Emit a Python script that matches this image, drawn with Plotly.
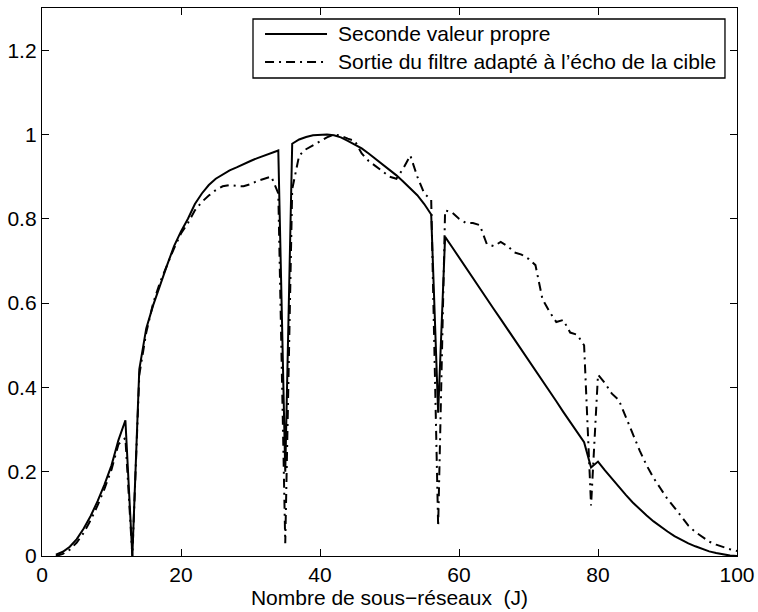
import plotly.graph_objects as go

J = list(range(2, 101))

seconde_valeur_propre = [
    0.003, 0.010, 0.022, 0.040, 0.065, 0.095, 0.130, 0.170, 0.215, 0.275,   # 2-11
    0.322, 0.000, 0.443, 0.540, 0.595, 0.645, 0.690, 0.735, 0.770, 0.800,   # 12-21
    0.835, 0.860, 0.880, 0.895, 0.905, 0.915, 0.922, 0.930, 0.937, 0.944,   # 22-31
    0.950, 0.956, 0.962, 0.200, 0.978, 0.988, 0.994, 0.998, 0.999, 1.000,   # 32-41
    0.998, 0.993, 0.985, 0.977, 0.967, 0.955, 0.942, 0.930, 0.917, 0.903,   # 42-51
    0.888, 0.872, 0.856, 0.835, 0.810, 0.340, 0.757, 0.733, 0.708, 0.684,   # 52-61
    0.660, 0.635, 0.611, 0.586, 0.562, 0.538, 0.513, 0.489, 0.464, 0.440,   # 62-71
    0.416, 0.391, 0.367, 0.342, 0.318, 0.294, 0.270, 0.210, 0.224, 0.203,   # 72-81
    0.183, 0.164, 0.145, 0.127, 0.111, 0.096, 0.082, 0.069, 0.058, 0.047,   # 82-91
    0.038, 0.030, 0.023, 0.017, 0.011, 0.007, 0.004, 0.001, 0.000,          # 92-100
]

sortie_filtre_adapte = [
    0.000, 0.005, 0.015, 0.032, 0.055, 0.085, 0.120, 0.160, 0.205, 0.265,   # 2-11
    0.280, 0.000, 0.430, 0.530, 0.600, 0.650, 0.690, 0.730, 0.765, 0.790,   # 12-21
    0.820, 0.840, 0.855, 0.868, 0.877, 0.880, 0.878, 0.877, 0.882, 0.890,   # 22-31
    0.895, 0.900, 0.860, 0.030, 0.870, 0.950, 0.965, 0.975, 0.985, 0.993,   # 32-41
    1.000, 0.997, 0.990, 0.985, 0.955, 0.937, 0.925, 0.912, 0.900, 0.895,   # 42-51
    0.920, 0.950, 0.900, 0.860, 0.845, 0.070, 0.820, 0.815, 0.800, 0.790,   # 52-61
    0.790, 0.785, 0.740, 0.735, 0.745, 0.735, 0.720, 0.715, 0.705, 0.690,   # 62-71
    0.610, 0.580, 0.555, 0.560, 0.530, 0.525, 0.500, 0.120, 0.430, 0.410,   # 72-81
    0.385, 0.370, 0.330, 0.290, 0.250, 0.215, 0.185, 0.160, 0.135, 0.115,   # 82-91
    0.092, 0.072, 0.057, 0.045, 0.034, 0.027, 0.021, 0.016, 0.012,          # 92-100
]

series_names = ["Seconde valeur propre",
                "Sortie du filtre adapté à l’écho de la cible"]

x_ticks = [0, 20, 40, 60, 80, 100]
y_ticks = [0, 0.2, 0.4, 0.6, 0.8, 1.0, 1.2]
y_tick_labels = ["0", "0.2", "0.4", "0.6", "0.8", "1", "1.2"]

FONT = "Liberation Sans, Arial, Helvetica, sans-serif"
FS = 21
DASHDOT = "9px,5px,2px,5px"
styles = [dict(color="black", width=2),
          dict(color="black", width=2, dash=DASHDOT)]

fig = go.Figure()
for name, ys, st in zip(series_names, [seconde_valeur_propre, sortie_filtre_adapte], styles):
    fig.add_trace(go.Scatter(x=J, y=ys, mode="lines", name=name,
                             line=st, showlegend=False))

# MATLAB-style legend box (paper coordinates of the plot area)
box = dict(x0=0.3036, x1=0.9827, y0=0.8723, y1=0.9799)
row_y = [0.9526, 0.9015]
key_x0, key_x1, text_x = 0.3209, 0.4101, 0.423

shapes = [dict(type="rect", xref="paper", yref="paper", **box,
               line=dict(color="black", width=1.3), fillcolor="white", layer="above")]
annotations = []
for name, st, yy in zip(series_names, styles, row_y):
    shapes.append(dict(type="line", xref="paper", yref="paper",
                       x0=key_x0, x1=key_x1, y0=yy, y1=yy,
                       line=st, layer="above"))
    annotations.append(dict(text=name, xref="paper", yref="paper",
                            x=text_x, y=yy, xanchor="left", yanchor="middle",
                            showarrow=False,
                            font=dict(family=FONT, size=FS, color="black")))

axis_common = dict(
    showgrid=False, zeroline=False,
    showline=True, linecolor="black", linewidth=1.3,
    mirror="allticks", ticks="inside", ticklen=7, tickwidth=1,
    tickcolor="black", automargin=False,
    tickfont=dict(family=FONT, size=FS, color="black"),
)

fig.update_layout(
    width=758, height=612,
    margin=dict(l=42, r=21, t=8, b=56),
    paper_bgcolor="white", plot_bgcolor="white",
    font=dict(family=FONT, size=FS, color="black"),
    xaxis=dict(range=[0, 100], tickvals=x_ticks,
               title=dict(text="Nombre de sous−réseaux  (J)", standoff=2,
                          font=dict(family=FONT, size=FS, color="black")),
               **axis_common),
    yaxis=dict(range=[0, 1.3], tickvals=y_ticks, ticktext=y_tick_labels,
               ticklabelstandoff=0,
               **axis_common),
    shapes=shapes,
    annotations=annotations,
    showlegend=False,
)

fig.write_html("out.html")
